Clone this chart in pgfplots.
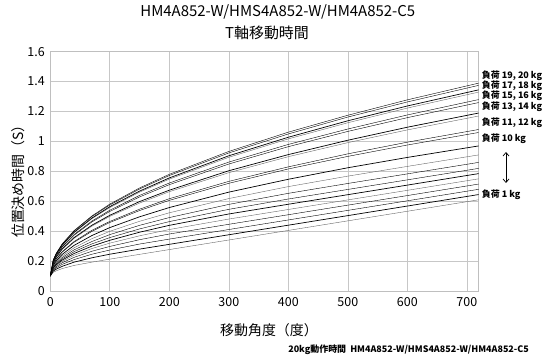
\documentclass[border=0pt]{standalone}
\usepackage{fontspec}
\setmainfont{Noto Sans CJK JP}
\usepackage{pgfplots}
\pgfplotsset{compat=1.18}
\usepackage{pgfplotstable}
\usetikzlibrary{arrows.meta}

\pgfplotstableread{
x   c1   c2   c3   c4   c5   c6   c7   c8   c9   c10  c11  c12  c13  c14  c15  c16  c17  c18  c19  c20
0   0.100 0.100 0.100 0.100 0.100 0.100 0.100 0.100 0.100 0.100 0.100 0.100 0.100 0.100 0.100 0.100 0.100 0.100 0.100 0.100
5   0.125 0.133 0.139 0.144 0.149 0.154 0.158 0.162 0.167 0.172 0.180 0.182 0.189 0.191 0.197 0.198 0.203 0.204 0.206 0.208
10  0.135 0.146 0.155 0.163 0.170 0.176 0.181 0.187 0.195 0.202 0.213 0.215 0.226 0.228 0.237 0.239 0.245 0.247 0.250 0.252
20  0.150 0.165 0.178 0.189 0.198 0.207 0.215 0.224 0.234 0.245 0.260 0.263 0.278 0.282 0.293 0.297 0.305 0.308 0.313 0.315
40  0.171 0.193 0.210 0.225 0.239 0.251 0.263 0.275 0.289 0.305 0.326 0.331 0.352 0.357 0.373 0.378 0.390 0.393 0.401 0.404
70  0.193 0.222 0.246 0.266 0.284 0.300 0.315 0.331 0.350 0.371 0.399 0.406 0.434 0.440 0.462 0.468 0.484 0.488 0.498 0.502
100 0.213 0.246 0.274 0.298 0.320 0.339 0.357 0.377 0.399 0.424 0.458 0.465 0.499 0.506 0.532 0.540 0.558 0.564 0.575 0.581
150 0.245 0.280 0.314 0.343 0.369 0.393 0.415 0.439 0.466 0.496 0.538 0.547 0.588 0.598 0.629 0.639 0.661 0.668 0.682 0.689
200 0.277 0.312 0.347 0.381 0.411 0.439 0.464 0.491 0.523 0.558 0.606 0.617 0.664 0.674 0.711 0.722 0.748 0.756 0.772 0.780
300 0.341 0.376 0.411 0.446 0.481 0.515 0.546 0.579 0.618 0.661 0.720 0.733 0.791 0.804 0.849 0.862 0.894 0.904 0.923 0.933
400 0.405 0.440 0.475 0.510 0.545 0.580 0.615 0.653 0.698 0.747 0.816 0.830 0.898 0.912 0.965 0.980 1.017 1.028 1.050 1.062
500 0.469 0.504 0.539 0.574 0.609 0.644 0.679 0.719 0.768 0.824 0.900 0.917 0.992 1.008 1.067 1.083 1.125 1.138 1.163 1.175
600 0.533 0.568 0.603 0.638 0.673 0.708 0.743 0.783 0.833 0.893 0.976 0.995 1.077 1.095 1.159 1.177 1.223 1.237 1.264 1.278
720 0.610 0.645 0.680 0.715 0.750 0.785 0.820 0.860 0.910 0.970 1.060 1.080 1.170 1.190 1.260 1.280 1.330 1.345 1.375 1.390
}\data

\begin{document}
\begin{tikzpicture}
\path[use as bounding box] (-50.3bp,-65bp) rectangle (491.7bp,291bp);
\begin{axis}[
  scale only axis, width=428.4bp, height=239.3bp,
  at={(0,0)}, anchor=south west,
  xmin=0, xmax=720, ymin=0, ymax=1.6,
  xtick={0,100,200,300,400,500,600,700},
  ytick={0,0.2,0.4,0.6,0.8,1,1.2,1.4,1.6},
  grid=major,
  grid style={black!22, line width=0.6bp},
  axis line style={black!25, line width=0.6bp},
  major tick length=0pt,
  tick label style={font=\fontsize{12.5}{14}\selectfont},
  /pgf/number format/assume math mode=true,
  xticklabel style={yshift=-3bp},
  yticklabel style={xshift=-2bp},
  cycle list={{black!60, line width=0.7bp, solid, no marks}},
]
\pgfplotsinvokeforeach{1,...,20}{
  \addplot table[x=x, y=c#1] {\data};
}
\end{axis}
% titles
\node[font=\fontsize{15}{17}\selectfont] at (227.5bp,279bp) {HM4A852-W/HMS4A852-W/HM4A852-C5};
\node[font=\fontsize{15}{17}\selectfont] at (216.7bp,258bp) {T軸移動時間};
% axis labels
\node[font=\fontsize{14}{16}\selectfont] at (218.7bp,-39bp) {移動角度（度）};
\node[font=\fontsize{14}{16}\selectfont, rotate=90] at (-32.3bp,113bp) {位置決め時間（S）};
% footer
\node[font=\fontsize{9}{11}\selectfont\bfseries, anchor=east, inner sep=0pt] at (478.7bp,-59bp) {20kg動作時間\ \ HM4A852-W/HMS4A852-W/HM4A852-C5};
% load labels
\begin{scope}[every node/.style={font=\fontsize{9}{11}\selectfont\bfseries, anchor=west, inner sep=0pt}]
\node at (431.4bp,215bp) {負荷 19, 20 kg};
\node at (431.4bp,205bp) {負荷 17, 18 kg};
\node at (431.4bp,195bp) {負荷 15, 16 kg};
\node at (431.4bp,184bp) {負荷 13, 14 kg};
\node at (431.4bp,168bp) {負荷 11, 12 kg};
\node at (431.4bp,152bp) {負荷 10 kg};
\node at (431.4bp,96bp) {負荷 1 kg};
\end{scope}
\draw[{Straight Barb[length=3.5bp,width=6bp]}-{Straight Barb[length=3.5bp,width=6bp]}, line width=0.7bp] (455.7bp,139bp) -- (455.7bp,108bp);
\end{tikzpicture}
\end{document}
